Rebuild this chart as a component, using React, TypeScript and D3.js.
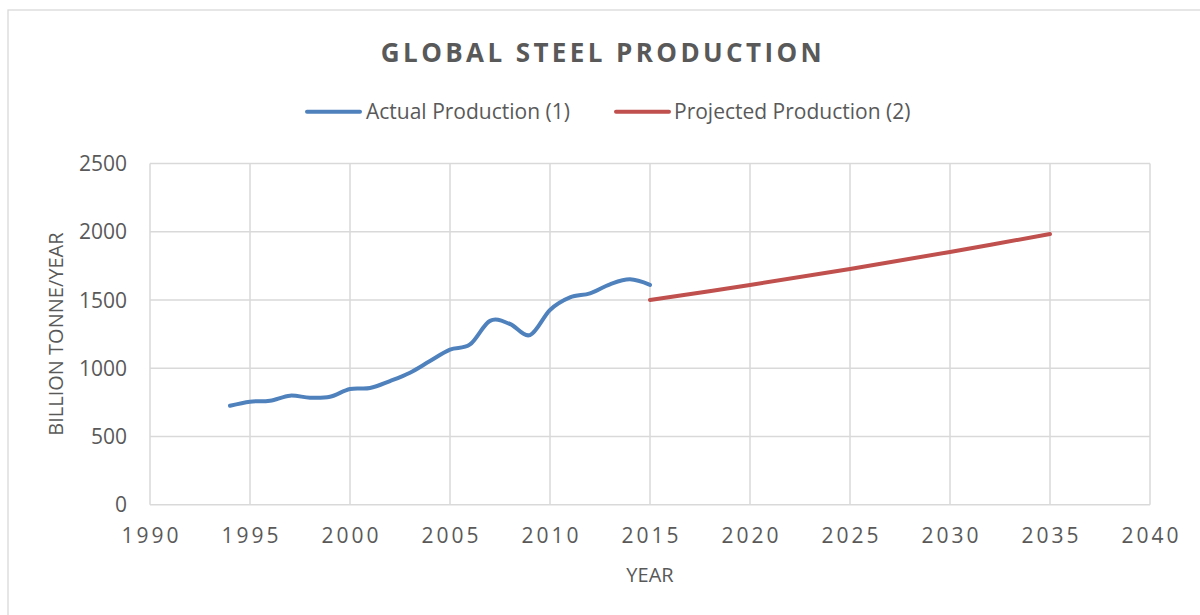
import * as d3 from 'd3'

const ACTUAL_YEARS = [1994, 1995, 1996, 1997, 1998, 1999, 2000, 2001, 2002, 2003, 2004, 2005, 2006, 2007, 2008, 2009, 2010, 2011, 2012, 2013, 2014, 2015]
const ACTUAL_VALUES = [725, 755, 762, 799, 784, 791, 848, 855, 906, 967, 1053, 1136, 1174, 1347, 1324, 1243, 1427, 1519, 1549, 1615, 1651, 1610]

const PROJECTED_YEARS = [2015, 2020, 2025, 2030, 2035]
const PROJECTED_VALUES = [1500, 1610, 1727, 1852, 1983]

const X_TICKS = [1990, 1995, 2000, 2005, 2010, 2015, 2020, 2025, 2030, 2035, 2040]
const Y_TICKS = [0, 500, 1000, 1500, 2000, 2500]

const SERIES = [
  { name: 'Actual Production (1)', years: ACTUAL_YEARS, values: ACTUAL_VALUES, color: '#4f81bd' },
  { name: 'Projected Production (2)', years: PROJECTED_YEARS, values: PROJECTED_VALUES, color: '#c0504d' },
]

const FONT = '"Open Sans", "DejaVu Sans", sans-serif'
const TEXT = '#595959'
const GRID = '#d9d9d9'

export default function App() {
  const plot = { left: 150, right: 1150, top: 163.5, bottom: 504.7 }

  const x = d3.scaleLinear().domain([1990, 2040]).range([plot.left, plot.right])
  const y = d3.scaleLinear().domain([0, 2500]).range([plot.bottom, plot.top])

  const line = d3.line<[number, number]>()
    .x((d) => x(d[0]))
    .y((d) => y(d[1]))
    .curve(d3.curveCardinal.tension(0))

  // legend positions (page coords)
  const legend = [
    { x1: 307, x2: 360, tx: 366 },
    { x1: 616, x2: 669, tx: 674 },
  ]

  return (
    <svg
      width={1200}
      height={615}
      style={{ position: 'absolute', left: 0, top: 0, background: '#fff' }}
      fontFamily={FONT}
    >
      <rect x={8} y={10} width={1210} height={620} fill="#fff" stroke={GRID} strokeWidth={1.3} />

      {/* title */}
      <text x={603} y={61.5} textAnchor="middle" fontSize={26} fontWeight={700} letterSpacing={3.4} fill={TEXT}>
        GLOBAL STEEL PRODUCTION
      </text>

      {/* legend */}
      {SERIES.map((s, i) => (
        <g key={s.name}>
          <line x1={legend[i].x1} x2={legend[i].x2} y1={111.7} y2={111.7} stroke={s.color} strokeWidth={4} strokeLinecap="round" />
          <text x={legend[i].tx} y={119} fontSize={21} fill={TEXT}>{s.name}</text>
        </g>
      ))}

      {/* gridlines */}
      {Y_TICKS.map((t) => (
        <line key={'h' + t} x1={plot.left} x2={plot.right} y1={y(t)} y2={y(t)} stroke={GRID} strokeWidth={1.5} />
      ))}
      {X_TICKS.map((t) => (
        <line key={'v' + t} x1={x(t)} x2={x(t)} y1={plot.top} y2={plot.bottom} stroke={GRID} strokeWidth={1.5} />
      ))}

      {/* y tick labels */}
      {Y_TICKS.map((t) => (
        <text key={'yl' + t} x={127} y={y(t)} dy="0.36em" textAnchor="end" fontSize={21} fill={TEXT}>{t}</text>
      ))}

      {/* x tick labels */}
      {X_TICKS.map((t) => (
        <text key={'xl' + t} x={x(t) + 1.5} y={543} textAnchor="middle" fontSize={21} letterSpacing={3} fill={TEXT}>{t}</text>
      ))}

      {/* axis titles */}
      <text x={650} y={582} textAnchor="middle" fontSize={20} fill={TEXT}>YEAR</text>
      <text
        transform={`translate(63,${(plot.top + plot.bottom) / 2}) rotate(-90)`}
        textAnchor="middle"
        fontSize={20}
        fill={TEXT}
      >
        BILLION TONNE/YEAR
      </text>

      {/* series */}
      {SERIES.map((s) => (
        <path
          key={'p' + s.name}
          d={line(s.years.map((yr, i) => [yr, s.values[i]] as [number, number])) || ''}
          fill="none"
          stroke={s.color}
          strokeWidth={4}
          strokeLinecap="round"
          strokeLinejoin="round"
        />
      ))}
    </svg>
  )
}
